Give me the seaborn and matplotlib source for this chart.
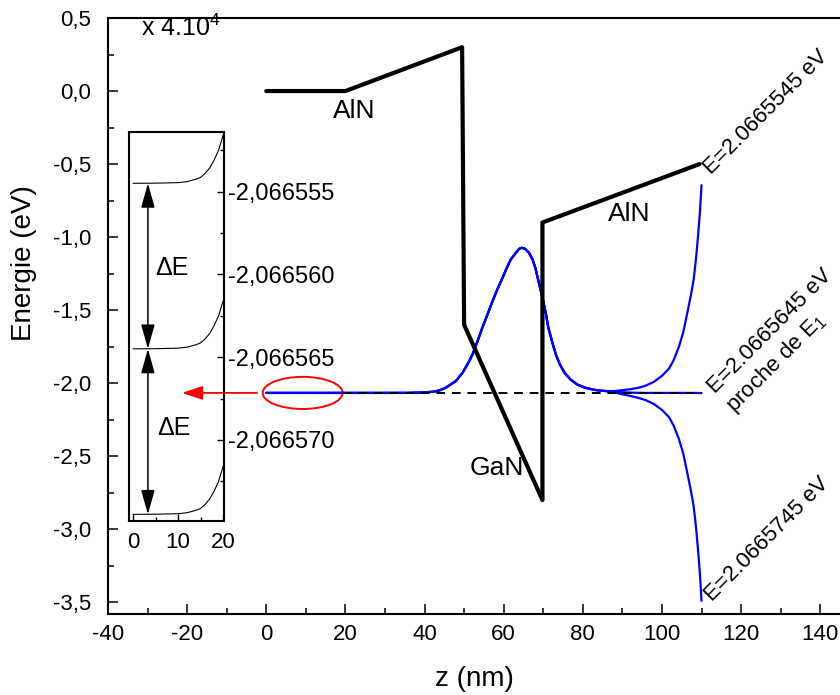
import pandas as pd
import matplotlib
matplotlib.use("Agg")
import matplotlib.pyplot as plt
import seaborn as sns
from matplotlib.patches import Ellipse
from matplotlib.ticker import FixedLocator, FuncFormatter, MultipleLocator

# --- conduction band profile AlN / GaN / AlN (eV) ---
band_z = [0, 20, 49.5, 50, 69.8, 69.8, 109.5]
band_e = [0.0, 0.0, 0.30, -1.60, -2.80, -0.90, -0.50]

# --- part of the wavefunction shared by the three trial energies ---
well_z = [0, 10, 20, 30, 36, 39, 42.0, 43.7, 45.3, 47.9, 49.6, 51.3, 52.1,
          53.4, 54.6, 55.9, 57.2, 58.4, 59.7, 60.8, 61.8, 63.1, 63.9, 64.6,
          65.4, 66.4, 67.3, 68.0, 68.6, 69.3, 70.0, 70.7, 71.3, 72.2, 73.2,
          74.2, 75.4, 76.9, 78.6, 80.7, 82.8, 84.1, 86.0]
well_e = [-2.0665, -2.0665, -2.0665, -2.0665, -2.0662, -2.064, -2.059, -2.050,
          -2.032, -1.986, -1.929, -1.849, -1.804, -1.712, -1.621, -1.530,
          -1.438, -1.358, -1.279, -1.210, -1.153, -1.107, -1.080, -1.073,
          -1.080, -1.107, -1.153, -1.210, -1.279, -1.358, -1.438, -1.530,
          -1.621, -1.712, -1.804, -1.872, -1.929, -1.975, -2.009, -2.032,
          -2.045, -2.050, -2.054]

# --- right hand tails (diverge depending on the energy) ---
tail_z = [88, 90, 92, 94, 96, 98, 100, 101.8, 103, 104.3, 105.4, 106.4,
          107.3, 108.0, 108.6, 109.1, 109.6, 110]
tail_upper = [-2.054, -2.048, -2.041, -2.032, -2.016, -1.990, -1.950, -1.900,
              -1.840, -1.750, -1.650, -1.520, -1.400, -1.295, -1.150, -1.000,
              -0.830, -0.644]
tail_middle = [-2.058, -2.062, -2.064, -2.066, -2.0665, -2.0665, -2.0665,
               -2.0665, -2.0665, -2.0665, -2.0665, -2.0665, -2.0665, -2.0665,
               -2.0667, -2.0670, -2.0675, -2.068]
tail_lower = [-2.062, -2.076, -2.087, -2.100, -2.117, -2.143, -2.183, -2.233,
              -2.293, -2.383, -2.483, -2.613, -2.733, -2.838, -2.983, -3.133,
              -3.303, -3.490]

# --- inset (zoom on the left barrier, x 4.10^4) ---
inset_z = [0, 5, 10, 12, 14, 15, 16, 17, 18, 19, 20]
inset_rise = [0, 0.01, 0.04, 0.10, 0.25, 0.36, 0.60, 0.92, 1.40, 2.00, 2.90]  # 1e-6 eV
inset_levels = [-2.0665545, -2.0665645, -2.0665745]
inset_yticks = [-2.066555, -2.066560, -2.066565, -2.066570]
inset_yminor = [-2.0665525, -2.0665575, -2.0665625, -2.0665675, -2.0665725]

level_e = -2.0665

sns.set_theme(style="ticks")
plt.rcParams["font.family"] = ["Liberation Sans", "DejaVu Sans"]
plt.rcParams["mathtext.fontset"] = "custom"
plt.rcParams["mathtext.rm"] = "Liberation Sans"
plt.rcParams["mathtext.it"] = "Liberation Sans"
plt.rcParams["axes.unicode_minus"] = False
for key in ["text.color", "axes.labelcolor", "xtick.color", "ytick.color",
            "axes.edgecolor"]:
    plt.rcParams[key] = "black"

fig = plt.figure(figsize=(8.4, 6.95), dpi=100)
ax = fig.add_axes([108 / 840, 1 - 614 / 695, 1 - 108 / 840, (614 - 18) / 695])

# wavefunctions
rows = []
for name, tail in [("upper", tail_upper), ("middle", tail_middle), ("lower", tail_lower)]:
    for z, e in zip(well_z + tail_z, well_e + tail):
        rows.append({"z": z, "E": e, "curve": name})
wf = pd.DataFrame(rows)
sns.lineplot(data=wf, x="z", y="E", units="curve", estimator=None, sort=False,
             color="blue", lw=1.6, legend=False, ax=ax)

ax.plot([19.3, 110], [level_e, level_e], color="black", lw=1.4, ls=(0, (4.5, 3.5)))

sns.lineplot(x=band_z, y=band_e, sort=False, estimator=None, color="black",
             lw=3, ax=ax)

ax.add_patch(Ellipse((9.2, level_e), 20.2, 0.22, fill=False, ec="red", lw=1.4))
ax.annotate("", xy=(-21.3, level_e), xytext=(-2.3, level_e),
            arrowprops=dict(arrowstyle="-|>,head_length=0.9,head_width=0.3",
                            color="red", lw=1.3, mutation_scale=14,
                            shrinkA=0, shrinkB=0), zorder=5)

ax.text(22.2, -0.135, "AlN", ha="center", va="center", fontsize=19)
ax.text(91.7, -0.84, "AlN", ha="center", va="center", fontsize=19)
ax.text(58.3, -2.58, "GaN", ha="center", va="center", fontsize=19)

rot = dict(rotation=45, rotation_mode="anchor", ha="left", va="center", fontsize=16)
ax.text(111.4, -0.55, "E=2.0665545 eV", **rot)
ax.text(112.4, -2.05, "E=2.0665645 eV", **rot)
ax.text(117.2, -2.18, "proche de E$_1$", **rot)
ax.text(111.6, -3.47, "E=2.0665745 eV", **rot)

ax.set_xlim(-40, 145)
ax.set_ylim(-3.58, 0.5)
ax.xaxis.set_major_locator(MultipleLocator(20))
ax.xaxis.set_minor_locator(MultipleLocator(10))
ax.yaxis.set_major_locator(MultipleLocator(0.5))
ax.yaxis.set_minor_locator(MultipleLocator(0.25))
ax.xaxis.set_major_formatter(FuncFormatter(lambda v, p: f"{v:.0f}"))
ax.yaxis.set_major_formatter(FuncFormatter(lambda v, p: f"{v:.1f}".replace(".", ",")))
ax.tick_params(which="both", direction="in", top=False, right=False, width=1.1,
               labelsize=16)
ax.tick_params(which="major", length=7.5)
ax.tick_params(which="minor", length=4)
ax.tick_params(axis="y", pad=12)
ax.tick_params(axis="x", pad=7)
for s in ["left", "bottom", "top"]:
    ax.spines[s].set_linewidth(1.5)
ax.spines["right"].set_visible(False)
ax.set_xlabel("z (nm)", fontsize=20)
ax.set_ylabel("Energie (eV)", fontsize=20)
ax.xaxis.set_label_coords(0.5, -0.088)
ax.yaxis.set_label_coords(-0.097, 0.589)

# --- inset ---
axin = fig.add_axes([129 / 840, 1 - 521 / 695, (224 - 129) / 840, (521 - 132) / 695])
axin.set_facecolor("none")
for lvl in inset_levels:
    sns.lineplot(x=inset_z, y=[lvl + r * 1e-6 for r in inset_rise], sort=False,
                 estimator=None, color="black", lw=0.8, ax=axin)

for top, bot in zip(inset_levels[:-1], inset_levels[1:]):
    axin.annotate("", xy=(3.3, bot), xytext=(3.3, top),
                  arrowprops=dict(arrowstyle="<|-|>,head_length=1.0,head_width=0.28",
                                  color="black", lw=1.1, mutation_scale=15,
                                  shrinkA=0, shrinkB=0))
axin.text(8.6, -2.0665596, "\u0394E", ha="center", va="center", fontsize=18)
axin.text(9.1, -2.0665693, "\u0394E", ha="center", va="center", fontsize=18)

axin.set_xlim(-0.9, 20.2)
axin.set_ylim(-2.0665749, -2.0665514)
axin.xaxis.set_major_locator(FixedLocator([0, 10, 20]))
axin.xaxis.set_minor_locator(FixedLocator([5, 15]))
axin.yaxis.set_major_locator(FixedLocator(inset_yticks))
axin.yaxis.set_minor_locator(FixedLocator(inset_yminor))
axin.yaxis.set_major_formatter(FuncFormatter(lambda v, p: f"{v:.6f}".replace(".", ",")))
axin.xaxis.set_major_formatter(FuncFormatter(lambda v, p: f"{v:.0f}"))
axin.yaxis.tick_right()
axin.tick_params(which="both", direction="in", width=1, labelsize=16,
                 left=False, right=True, top=False, bottom=True)
axin.tick_params(axis="y", labelsize=17, pad=3)
axin.tick_params(which="major", length=5)
axin.tick_params(which="minor", length=3)
axin.tick_params(axis="x", pad=8)
axin.set_xlabel("")
axin.set_ylabel("")
for s in axin.spines.values():
    s.set_linewidth(1.5)

fig.text(181 / 840, 1 - 28 / 695, r"x 4.10$^4$", ha="center", va="center", fontsize=18)

fig.savefig("out.png", dpi=100)
